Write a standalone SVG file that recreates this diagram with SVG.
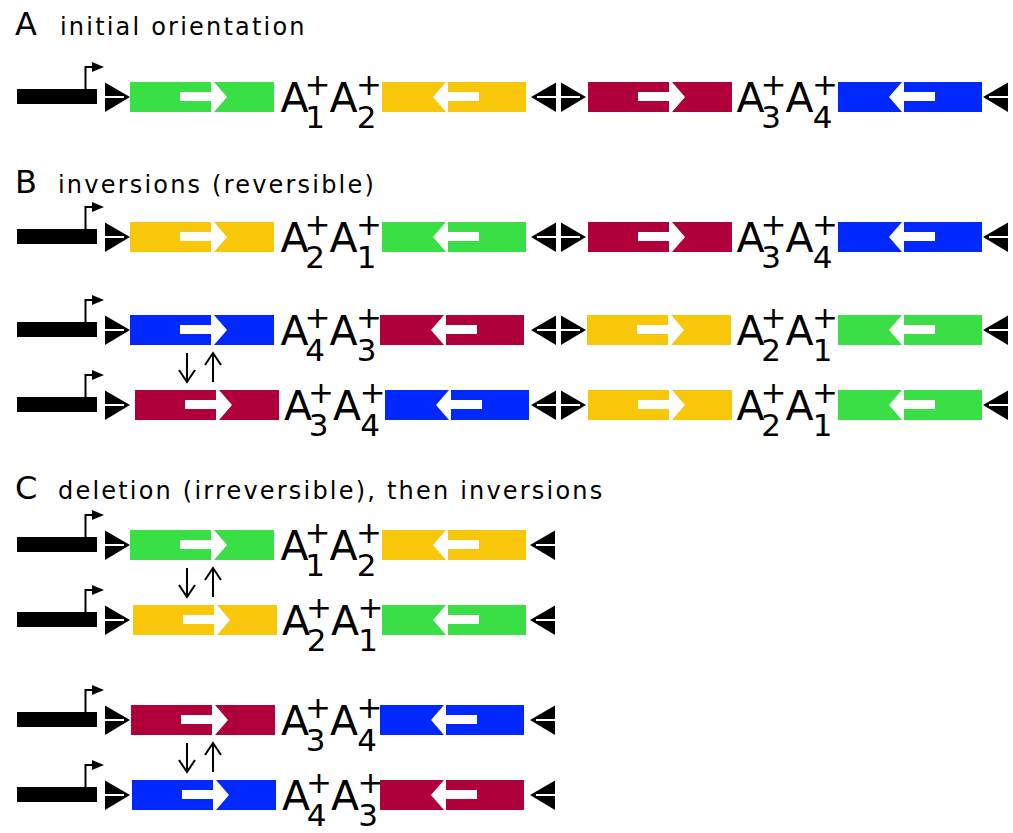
<svg xmlns="http://www.w3.org/2000/svg" xmlns:xlink="http://www.w3.org/1999/xlink" width="1013" height="833" viewBox="0 0 1013 833">
<style>
.sec{font-family:"DejaVu Sans","Liberation Sans",sans-serif;font-size:32px;fill:#000}
.cap{font-family:"DejaVu Sans","Liberation Sans",sans-serif;font-size:24px;letter-spacing:2.2px;fill:#000}
.lab{font-family:"DejaVu Sans","Liberation Sans",sans-serif;text-anchor:middle;fill:#000}
.A{font-size:41px}
.s{font-size:31px}
.g{fill:#3ADF45}.y{fill:#F8C70A}.r{fill:#B0003C}.b{fill:#0028FF}
.ar{fill:none;stroke:#000;stroke-width:2}
</style>
<defs>
<g id="boxR"><rect width="144" height="30"/><path fill="#fff" d="M50,10h31v9h-31z M81,0h3l13,15l-13,15h-3z"/></g>
<g id="boxL"><rect width="144" height="30"/><path fill="#fff" d="M66,10h31v9h-31z M64,0h2v30h-2l-13,-15z"/></g>
<g id="prom"><rect x="17" y="-8" width="80" height="15" fill="#000"/><path d="M85.5,-8V-30H93" fill="none" stroke="#000" stroke-width="2"/><polygon points="92,-35 104,-30 92,-25" fill="#000"/></g>
<g id="triR"><polygon points="0,-14.5 25,0 0,15" fill="#000"/><rect x="0" y="-1" width="19" height="2" fill="#fff"/></g>
<g id="triL"><polygon points="25,-14.5 0,0 25,15" fill="#000"/><rect x="6" y="-1" width="19" height="2" fill="#fff"/></g>
<g id="ud"><path class="ar" d="M187,0V29M179,17L187,29L195,17"/><path class="ar" d="M213,0V29M205,12L213,0L221,12"/></g>
</defs>

<g id="labels">
<text class="sec" x="15" y="35">A</text><text class="cap" x="60" y="35">initial orientation</text>
<text class="sec" x="15" y="193">B</text><text class="cap" x="58" y="193">inversions (reversible)</text>
<text class="sec" x="15" y="499">C</text><text class="cap" x="58" y="499">deletion (irreversible), then inversions</text>
</g>

<!-- Row A -->
<g id="rowA" transform="translate(0,97)">
<use xlink:href="#prom"/><use xlink:href="#triR" x="105"/>
<use xlink:href="#boxR" class="g" x="130" y="-15"/>
<text class="lab"><tspan class="A" x="294.5" y="15">A</tspan><tspan class="s" x="315" y="31">1</tspan><tspan class="s" x="317.5" y="-2">+</tspan><tspan class="A" x="343.5" y="15">A</tspan><tspan class="s" x="366.5" y="31">2</tspan><tspan class="s" x="369" y="-2">+</tspan></text>
<use xlink:href="#boxL" class="y" x="382" y="-15"/>
<use xlink:href="#triL" x="531"/><use xlink:href="#triR" x="561"/>
<use xlink:href="#boxR" class="r" x="588" y="-15"/>
<text class="lab"><tspan class="A" x="750.5" y="15">A</tspan><tspan class="s" x="771" y="31">3</tspan><tspan class="s" x="773.5" y="-2">+</tspan><tspan class="A" x="799.5" y="15">A</tspan><tspan class="s" x="822.5" y="31">4</tspan><tspan class="s" x="825" y="-2">+</tspan></text>
<use xlink:href="#boxL" class="b" x="838" y="-15"/>
<use xlink:href="#triL" x="983"/>
</g>

<!-- Row B1 -->
<g id="rowB1" transform="translate(0,237)">
<use xlink:href="#prom"/><use xlink:href="#triR" x="105"/>
<use xlink:href="#boxR" class="y" x="130" y="-15"/>
<text class="lab"><tspan class="A" x="294.5" y="15">A</tspan><tspan class="s" x="315" y="31">2</tspan><tspan class="s" x="317.5" y="-2">+</tspan><tspan class="A" x="343.5" y="15">A</tspan><tspan class="s" x="366.5" y="31">1</tspan><tspan class="s" x="369" y="-2">+</tspan></text>
<use xlink:href="#boxL" class="g" x="382" y="-15"/>
<use xlink:href="#triL" x="531"/><use xlink:href="#triR" x="561"/>
<use xlink:href="#boxR" class="r" x="588" y="-15"/>
<text class="lab"><tspan class="A" x="750.5" y="15">A</tspan><tspan class="s" x="771" y="31">3</tspan><tspan class="s" x="773.5" y="-2">+</tspan><tspan class="A" x="799.5" y="15">A</tspan><tspan class="s" x="822.5" y="31">4</tspan><tspan class="s" x="825" y="-2">+</tspan></text>
<use xlink:href="#boxL" class="b" x="838" y="-15"/>
<use xlink:href="#triL" x="983"/>
</g>

<!-- Row B2 -->
<g id="rowB2" transform="translate(0,330)">
<use xlink:href="#prom"/><use xlink:href="#triR" x="105"/>
<use xlink:href="#boxR" class="b" x="130" y="-15"/>
<text class="lab"><tspan class="A" x="294.5" y="15">A</tspan><tspan class="s" x="315" y="31">4</tspan><tspan class="s" x="317.5" y="-2">+</tspan><tspan class="A" x="343.5" y="15">A</tspan><tspan class="s" x="366.5" y="31">3</tspan><tspan class="s" x="369" y="-2">+</tspan></text>
<use xlink:href="#boxL" class="r" x="380" y="-15"/>
<use xlink:href="#triL" x="531"/><use xlink:href="#triR" x="561"/>
<use xlink:href="#boxR" class="y" x="587" y="-15"/>
<text class="lab"><tspan class="A" x="750.5" y="15">A</tspan><tspan class="s" x="771" y="31">2</tspan><tspan class="s" x="773.5" y="-2">+</tspan><tspan class="A" x="799.5" y="15">A</tspan><tspan class="s" x="822.5" y="31">1</tspan><tspan class="s" x="825" y="-2">+</tspan></text>
<use xlink:href="#boxL" class="g" x="838" y="-15"/>
<use xlink:href="#triL" x="983"/>
</g>

<!-- Row B3 -->
<g id="rowB3" transform="translate(0,405)">
<use xlink:href="#prom"/><use xlink:href="#triR" x="105"/>
<use xlink:href="#boxR" class="r" x="135" y="-15"/>
<text class="lab"><tspan class="A" x="298" y="15">A</tspan><tspan class="s" x="318.5" y="31">3</tspan><tspan class="s" x="321" y="-2">+</tspan><tspan class="A" x="347" y="15">A</tspan><tspan class="s" x="370" y="31">4</tspan><tspan class="s" x="372.5" y="-2">+</tspan></text>
<use xlink:href="#boxL" class="b" x="385" y="-15"/>
<use xlink:href="#triL" x="531"/><use xlink:href="#triR" x="561"/>
<use xlink:href="#boxR" class="y" x="588" y="-15"/>
<text class="lab"><tspan class="A" x="750.5" y="15">A</tspan><tspan class="s" x="771" y="31">2</tspan><tspan class="s" x="773.5" y="-2">+</tspan><tspan class="A" x="799.5" y="15">A</tspan><tspan class="s" x="822.5" y="31">1</tspan><tspan class="s" x="825" y="-2">+</tspan></text>
<use xlink:href="#boxL" class="g" x="838" y="-15"/>
<use xlink:href="#triL" x="983"/>
</g>

<!-- Row C1 -->
<g id="rowC1" transform="translate(0,545)">
<use xlink:href="#prom"/><use xlink:href="#triR" x="105"/>
<use xlink:href="#boxR" class="g" x="130" y="-15"/>
<text class="lab"><tspan class="A" x="294.5" y="15">A</tspan><tspan class="s" x="315" y="31">1</tspan><tspan class="s" x="317.5" y="-2">+</tspan><tspan class="A" x="343.5" y="15">A</tspan><tspan class="s" x="366.5" y="31">2</tspan><tspan class="s" x="369" y="-2">+</tspan></text>
<use xlink:href="#boxL" class="y" x="382" y="-15"/>
<use xlink:href="#triL" x="530"/>
</g>

<!-- Row C2 -->
<g id="rowC2" transform="translate(0,620)">
<use xlink:href="#prom"/><use xlink:href="#triR" x="105"/>
<use xlink:href="#boxR" class="y" x="133" y="-15"/>
<text class="lab"><tspan class="A" x="296" y="15">A</tspan><tspan class="s" x="316.5" y="31">2</tspan><tspan class="s" x="319" y="-2">+</tspan><tspan class="A" x="345" y="15">A</tspan><tspan class="s" x="368" y="31">1</tspan><tspan class="s" x="370.5" y="-2">+</tspan></text>
<use xlink:href="#boxL" class="g" x="382" y="-15"/>
<use xlink:href="#triL" x="530"/>
</g>

<!-- Row C3 -->
<g id="rowC3" transform="translate(0,720)">
<use xlink:href="#prom"/><use xlink:href="#triR" x="105"/>
<use xlink:href="#boxR" class="r" x="131" y="-15"/>
<text class="lab"><tspan class="A" x="295" y="15">A</tspan><tspan class="s" x="315.5" y="31">3</tspan><tspan class="s" x="318" y="-2">+</tspan><tspan class="A" x="344" y="15">A</tspan><tspan class="s" x="367" y="31">4</tspan><tspan class="s" x="369.5" y="-2">+</tspan></text>
<use xlink:href="#boxL" class="b" x="380" y="-15"/>
<use xlink:href="#triL" x="530"/>
</g>

<!-- Row C4 -->
<g id="rowC4" transform="translate(0,795)">
<use xlink:href="#prom"/><use xlink:href="#triR" x="105"/>
<use xlink:href="#boxR" class="b" x="132" y="-15"/>
<text class="lab"><tspan class="A" x="296" y="15">A</tspan><tspan class="s" x="316.5" y="31">4</tspan><tspan class="s" x="319" y="-2">+</tspan><tspan class="A" x="345" y="15">A</tspan><tspan class="s" x="368" y="31">3</tspan><tspan class="s" x="370.5" y="-2">+</tspan></text>
<use xlink:href="#boxL" class="r" x="380" y="-15"/>
<use xlink:href="#triL" x="530"/>
</g>

<g id="connectors">
<use xlink:href="#ud" y="353"/>
<use xlink:href="#ud" y="568"/>
<use xlink:href="#ud" y="743"/>
</g>
</svg>
